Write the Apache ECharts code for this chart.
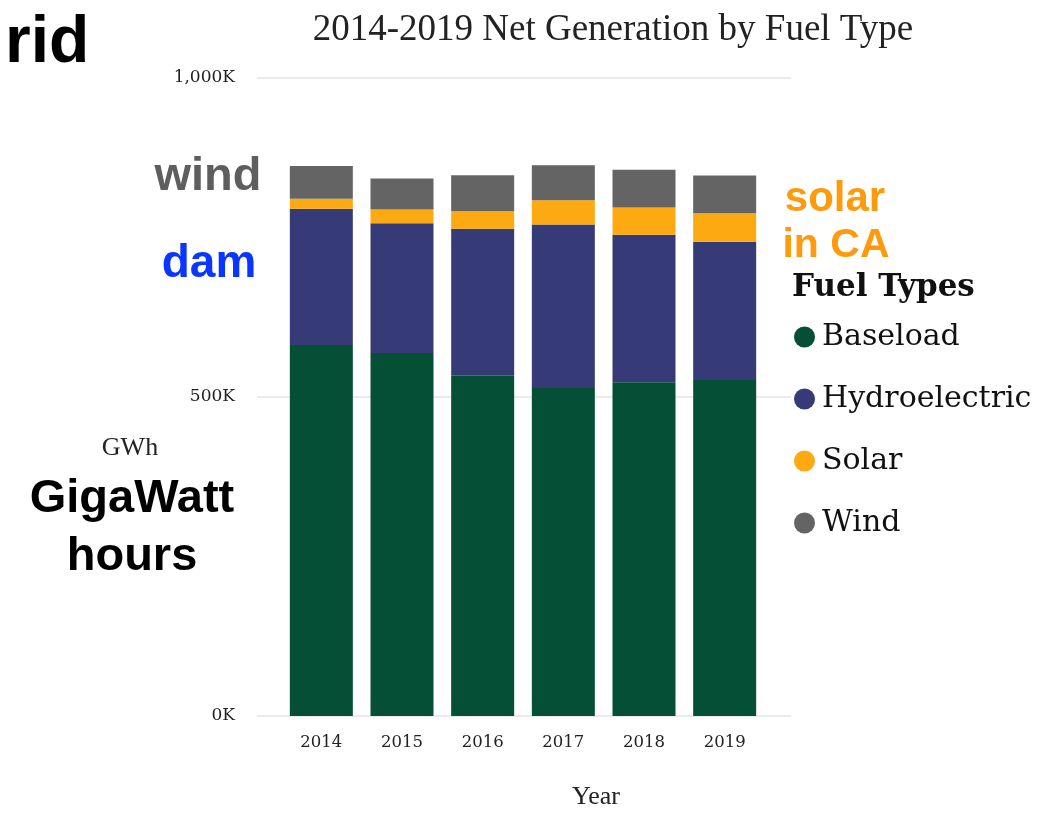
<!DOCTYPE html>
<html>
<head>
<meta charset="utf-8">
<script src="https://cdn.jsdelivr.net/npm/echarts@6/dist/echarts.min.js"></script>
<style>
html,body{margin:0;padding:0;background:#fff;}
#chart{width:1041px;height:816px;}
</style>
</head>
<body>
<div id="chart"></div>
<script>
// Data (thousand GWh)
var years = ['2014', '2015', '2016', '2017', '2018', '2019'];
var baseload = [581.6, 569.1, 533.5, 514.2, 523.0, 526.7];
var hydroelectric = [213.4, 203.3, 230.1, 256.2, 231.2, 216.5];
var solar = [15.7, 21.5, 27.6, 38.1, 42.9, 44.9];
var wind = [51.2, 48.7, 56.5, 54.9, 59.1, 59.2];
var yTicks = [0, 500, 1000];
var yTickLabels = ['0K', '500K', '1,000K'];
var seriesNames = ['Baseload', 'Hydroelectric', 'Solar', 'Wind'];
var seriesColors = ['#044f36', '#363b78', '#fdaa12', '#646464'];

var chart = echarts.init(document.getElementById('chart'));
var serifTick = 'DejaVu Serif';
var sans = '"Liberation Sans", Arial, sans-serif';

var seriesData = [baseload, hydroelectric, solar, wind];
var series = seriesNames.map(function (n, i) {
  return {
    name: n, type: 'bar', stack: 'total',
    xAxisIndex: 1, yAxisIndex: 1,
    barWidth: 63,
    itemStyle: { color: seriesColors[i] },
    emphasis: { disabled: true },
    data: seriesData[i]
  };
});

var option = {
  backgroundColor: '#ffffff',
  animation: false,
  title: {
    text: '2014-2019 Net Generation by Fuel Type',
    left: 608, top: 7, textAlign: 'center',
    textStyle: { fontFamily: '"Liberation Serif", serif', fontWeight: 'normal', fontSize: 37, color: '#222' }
  },
  legend: {
    data: seriesNames,
    orient: 'vertical',
    left: 794, top: 322, padding: 0,
    icon: 'circle',
    itemWidth: 21, itemHeight: 21, itemGap: 32,
    selectedMode: false,
    textStyle: { fontFamily: serifTick, fontSize: 30, lineHeight: 30, color: '#111', padding: [0, 0, 0, 2] }
  },
  grid: [
    { left: 257, right: 250, top: 78, bottom: 100 },
    { left: 281, right: 276, top: 78, bottom: 100 }
  ],
  xAxis: [
    { type: 'category', gridIndex: 0, data: years, show: false },
    {
      type: 'category', gridIndex: 1, data: years,
      axisLine: { show: false }, axisTick: { show: false },
      axisLabel: { fontFamily: serifTick, fontSize: 16.5, color: '#222', margin: 18 }
    }
  ],
  yAxis: [
    {
      type: 'value', gridIndex: 0, min: 0, max: 1000, interval: 500,
      axisLine: { show: false }, axisTick: { show: false },
      splitLine: { lineStyle: { color: '#e4e4e4', width: 1.5 } },
      axisLabel: {
        fontFamily: serifTick, fontSize: 17, color: '#222', margin: 22,
        formatter: function (v) { var k = yTicks.indexOf(v); return k >= 0 ? yTickLabels[k] : ''; }
      }
    },
    { type: 'value', gridIndex: 1, min: 0, max: 1000, interval: 500, show: false }
  ],
  series: series,
  graphic: [
    { type: 'text', left: 792, top: 272, style: { text: 'Fuel Types', fontFamily: serifTick, fontWeight: 'bold', fontSize: 31, fill: '#111' } },
    { type: 'text', x: 130, y: 448, style: { text: 'GWh', fontFamily: '"Liberation Serif", serif', fontSize: 26, fill: '#222', align: 'center', verticalAlign: 'middle' } },
    { type: 'text', x: 596, y: 797, style: { text: 'Year', fontFamily: '"Liberation Serif", serif', fontSize: 26, fill: '#222', align: 'center', verticalAlign: 'middle' } },
    { type: 'text', x: 5, y: 44, style: { text: 'rid', fontFamily: sans, fontWeight: 'bold', fontSize: 66, fill: '#000', align: 'left', verticalAlign: 'middle' } },
    { type: 'text', x: 208, y: 177, style: { text: 'wind', fontFamily: sans, fontWeight: 'bold', fontSize: 47, fill: '#5e5e5e', align: 'center', verticalAlign: 'middle' } },
    { type: 'text', x: 209, y: 264, style: { text: 'dam', fontFamily: sans, fontWeight: 'bold', fontSize: 46, fill: '#0a36ff', align: 'center', verticalAlign: 'middle' } },
    { type: 'text', x: 835, y: 199, style: { text: 'solar', fontFamily: sans, fontWeight: 'bold', fontSize: 42, fill: '#ff9a0c', align: 'center', verticalAlign: 'middle' } },
    { type: 'text', x: 836, y: 246, style: { text: 'in CA', fontFamily: sans, fontWeight: 'bold', fontSize: 41, fill: '#ff9a0c', align: 'center', verticalAlign: 'middle' } },
    { type: 'text', x: 132, y: 499, style: { text: 'GigaWatt', fontFamily: sans, fontWeight: 'bold', fontSize: 47, fill: '#000', align: 'center', verticalAlign: 'middle' } },
    { type: 'text', x: 132, y: 557, style: { text: 'hours', fontFamily: sans, fontWeight: 'bold', fontSize: 47, fill: '#000', align: 'center', verticalAlign: 'middle' } }
  ]
};
chart.setOption(option);
</script>
</body>
</html>
